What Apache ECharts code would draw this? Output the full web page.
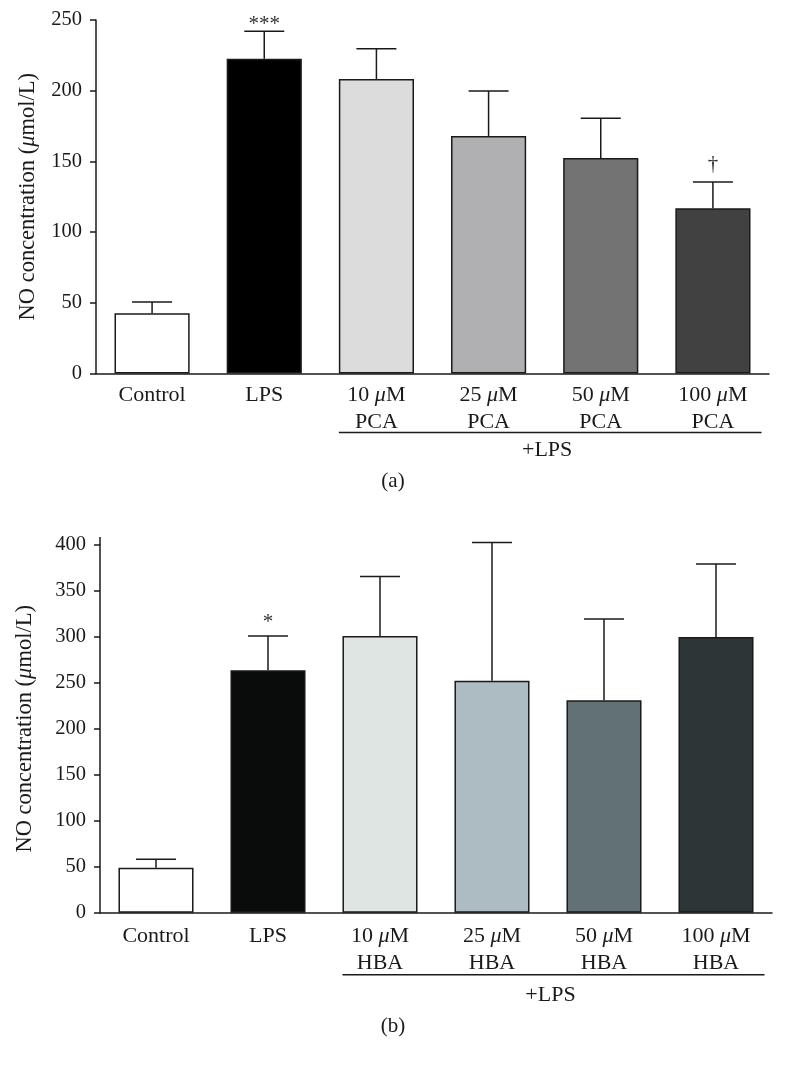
<!DOCTYPE html>
<html><head><meta charset="utf-8">
<script src="https://cdn.jsdelivr.net/npm/echarts@6/dist/echarts.min.js"></script>
<style>html,body{margin:0;padding:0;background:#fff}#c{width:786px;height:1090px}</style>
</head><body><div id="c"></div>
<script>
// ---- data ----
const categoriesA = ['Control', 'LPS', '10 μM\nPCA', '25 μM\nPCA', '50 μM\nPCA', '100 μM\nPCA'];
const categoriesB = ['Control', 'LPS', '10 μM\nHBA', '25 μM\nHBA', '50 μM\nHBA', '100 μM\nHBA'];
const pcaMean = [42.6, 222.6, 208.3, 168.0, 152.4, 116.8];
const pcaErr  = [8.0, 19.4, 21.4, 31.8, 28.1, 18.6];
const pcaSig  = ['', '***', '', '', '', '†'];
const hbaMean = [49.0, 263.8, 301.1, 252.4, 231.1, 300.0];
const hbaErr  = [9.1, 37.3, 64.5, 150.2, 88.5, 79.4];
const hbaSig  = ['', '*', '', '', '', ''];
const colorsA = ['#ffffff', '#000000', '#dcdcdc', '#b0b0b3', '#737373', '#414141'];
const colorsB = ['#ffffff', '#0a0c0b', '#dfe5e3', '#adbbc2', '#627274', '#2e3536'];
const yTicksA = {min: 0, max: 250, interval: 50};
const yTicksB = {min: 0, max: 400, interval: 50};
const yName = 'NO concentration (μmol/L)';
const groupLabel = '+LPS';

// ---- styling ----
const FONT = '"Liberation Serif", "Times New Roman", serif';
const INK = '#1a1a1a';
const sigGapA = [0, -4, 0, 0, 0, 7];   // pixel gap of the significance marks above the caps
const sigGapB = [0, 3, 0, 0, 0, 0];
const rich = {i: {fontStyle: 'italic', fontFamily: FONT, fontSize: 22, lineHeight: 27, color: INK}};
const ital = s => s.replace(/μ/g, '{i|μ}');

function xAxis(gi, cats, margin) {
  return {
    type: 'category', gridIndex: gi, data: cats,
    axisLine: {lineStyle: {color: INK, width: 1.5}},
    axisTick: {alignWithLabel: true, length: 6, lineStyle: {color: INK, width: 1.5}},
    axisLabel: {interval: 0, margin: margin, fontFamily: FONT, fontSize: 22, lineHeight: 27, color: INK,
      formatter: v => ital(v), rich: rich}
  };
}
function yAxis(gi, t, gap) {
  return {
    type: 'value', gridIndex: gi, min: t.min, max: t.max, interval: t.interval,
    splitLine: {show: false},
    axisLine: {show: true, lineStyle: {color: INK, width: 1.5}},
    axisTick: {show: true, length: 6, lineStyle: {color: INK, width: 1.5}},
    axisLabel: {margin: 14, fontFamily: FONT, fontSize: 20.5, color: INK},
    name: ital(yName), nameLocation: 'middle', nameGap: gap, nameRotate: 90,
    nameTextStyle: {fontFamily: FONT, fontSize: 22.5, color: INK,
      rich: {i: {fontStyle: 'italic', fontFamily: FONT, fontSize: 22.5, color: INK}}}
  };
}
function barSeries(gi, means, colors) {
  return {
    type: 'bar', xAxisIndex: gi, yAxisIndex: gi, barWidth: '67%',
    data: means.map((m, i) => ({value: m, itemStyle: {color: colors[i]}})),
    itemStyle: {borderColor: INK, borderWidth: 1.5}
  };
}
function errSeries(gi, means, errs, sig, gaps) {
  return {
    type: 'custom', xAxisIndex: gi, yAxisIndex: gi, z: 5, clip: false, silent: true,
    data: means.map((m, i) => [i, m, m + errs[i]]),
    renderItem(params, api) {
      const x = api.value(0);
      const p0 = api.coord([x, api.value(1)]);
      const p1 = api.coord([x, api.value(2)]);
      const hw = 20;
      const st = {stroke: INK, lineWidth: 1.5};
      const ch = [
        {type: 'line', shape: {x1: p0[0], y1: p0[1], x2: p1[0], y2: p1[1]}, style: st},
        {type: 'line', shape: {x1: p1[0] - hw, y1: p1[1], x2: p1[0] + hw, y2: p1[1]}, style: st}
      ];
      const s = sig[params.dataIndex];
      if (s) {
        ch.push({type: 'text', style: {text: s, x: p1[0], y: p1[1] - gaps[params.dataIndex], align: 'center',
          verticalAlign: 'bottom', font: '21px ' + FONT, fill: '#333'}});
      }
      return {type: 'group', children: ch};
    }
  };
}
function bracketSeries(gi, first, last, lineOff, textOff, axisOver) {
  return {
    type: 'custom', xAxisIndex: gi, yAxisIndex: gi, z: 5, clip: false, silent: true,
    data: [[first, last]],
    renderItem(params, api) {
      const a = api.coord([api.value(0), 0]);
      const b = api.coord([api.value(1), 0]);
      const hb = api.size([1, 0])[0] * 0.67 / 2;
      const x1 = a[0] - hb, x2 = b[0] + hb + 11, y = a[1] + lineOff;
      const ch = [
        {type: 'line', shape: {x1: x1, y1: y, x2: x2, y2: y}, style: {stroke: INK, lineWidth: 1.5}},
        {type: 'text', style: {text: groupLabel, x: (x1 + x2) / 2 - 3, y: a[1] + textOff, align: 'center',
          verticalAlign: 'middle', font: '22px ' + FONT, fill: INK}}
      ];
      if (axisOver) {
        const r = params.coordSys;
        ch.push({type: 'line', shape: {x1: r.x, y1: r.y, x2: r.x, y2: r.y - axisOver},
          style: {stroke: INK, lineWidth: 1.5}});
      }
      return {type: 'group', children: ch};
    }
  };
}

const chart = echarts.init(document.getElementById('c'), null, {renderer: 'canvas'});
chart.setOption({
  backgroundColor: '#ffffff',
  animation: false,
  title: [
    {text: '(a)', left: 'center', top: 466, textStyle: {fontFamily: FONT, fontSize: 21, fontWeight: 'normal', color: INK}},
    {text: '(b)', left: 'center', top: 1011, textStyle: {fontFamily: FONT, fontSize: 21, fontWeight: 'normal', color: INK}}
  ],
  grid: [
    {left: 96, right: 17, top: 20, bottom: 716.5},
    {left: 100, right: 14, top: 545, bottom: 177.3}
  ],
  xAxis: [xAxis(0, categoriesA, 8), xAxis(1, categoriesB, 10)],
  yAxis: [yAxis(0, yTicksA, 56), yAxis(1, yTicksB, 63)],
  series: [
    barSeries(0, pcaMean, colorsA),
    errSeries(0, pcaMean, pcaErr, pcaSig, sigGapA),
    bracketSeries(0, 2, 5, 59, 77, 0),
    barSeries(1, hbaMean, colorsB),
    errSeries(1, hbaMean, hbaErr, hbaSig, sigGapB),
    bracketSeries(1, 2, 5, 62, 82.5, 8)
  ]
});
</script>
</body></html>
